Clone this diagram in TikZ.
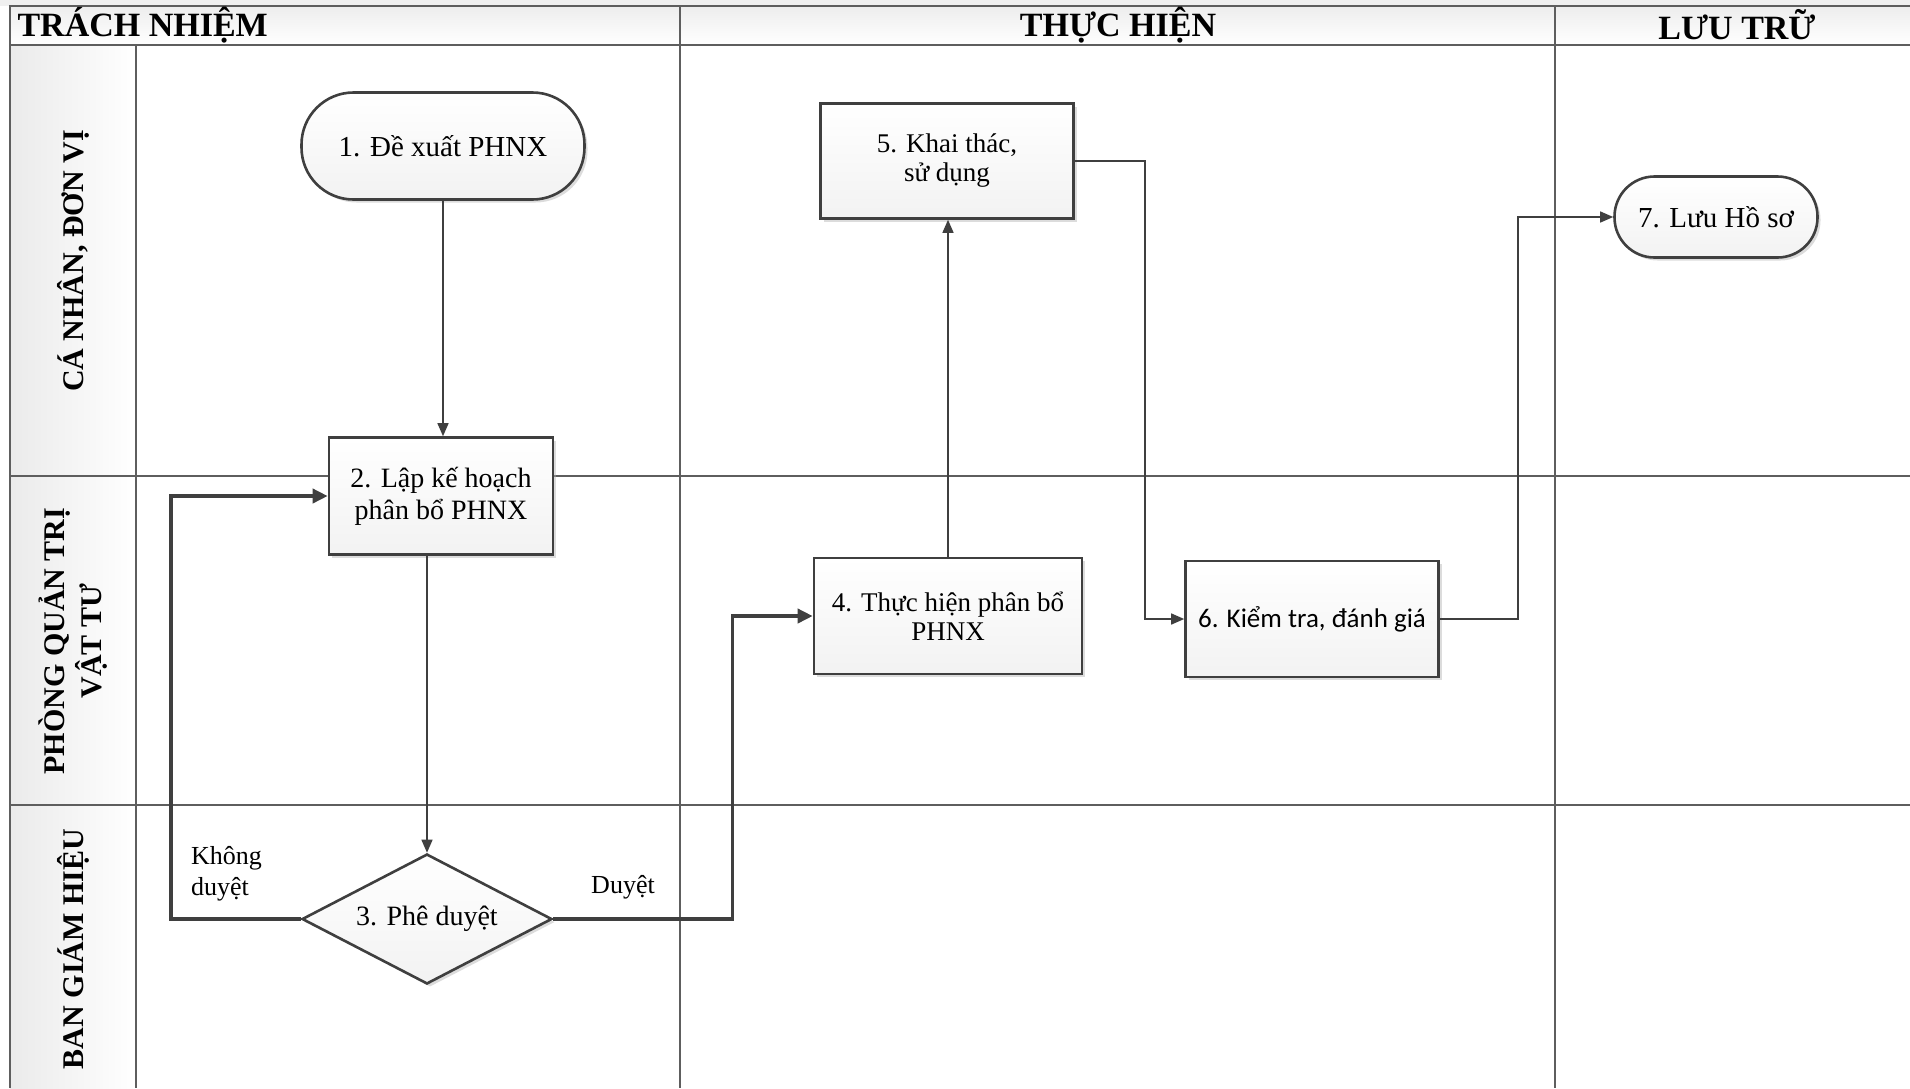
\documentclass[tikz,border=0pt]{standalone}
\usepackage{fontspec}
\setmainfont{Liberation Serif}
\newfontfamily\calfont{Carlito}
\usetikzlibrary{shapes.geometric,arrows.meta,shadows}
\definecolor{linec}{HTML}{3F3F3F}
\definecolor{lanec}{HTML}{5E5E5E}
\begin{document}
\begin{tikzpicture}[x=1pt,y=-1pt,
  lane/.style={draw=lanec, line width=1.4pt},
  box/.style={draw=linec, line width=2.6pt, top color=white, bottom color=gray!10,
    align=center, inner sep=0pt,
    drop shadow={shadow xshift=3pt, shadow yshift=-3pt, fill=black!30, opacity=0.45}},
  term/.style={box},
  conn/.style={draw=linec, line width=1.4pt, -{Triangle[length=13pt,width=11pt]}},
  tconn/.style={draw=linec, line width=3.6pt, -{Triangle[length=15pt,width=14pt]}},
  hdr/.style={font=\bfseries\fontsize{34}{38}\selectfont},
  lanelbl/.style={font=\bfseries\fontsize{30}{37}\selectfont, rotate=90, align=center},
  lbl/.style={font=\fontsize{26}{31}\selectfont, align=left, inner sep=0pt}
]
\useasboundingbox (0,0) rectangle (1910,1088);
% backgrounds
\fill[gray!12] (0,0) rectangle (1910,6);
\fill[top color=gray!14, bottom color=white] (10,6) rectangle (1910,45);
\fill[left color=gray!16, right color=white] (10,45) rectangle (136,1088);
% grid lines
\draw[lane] (10,1088) -- (10,6) -- (1910,6);
\draw[lane] (10,45) -- (1910,45);
\draw[lane] (10,476) -- (1910,476);
\draw[lane] (10,805) -- (1910,805);
\draw[lane] (136,45) -- (136,1088);
\draw[lane] (680,6) -- (680,1088);
\draw[lane] (1555,6) -- (1555,1088);
% headers
\node[hdr, anchor=west] (h1) at (14,25) {TRÁCH NHIỆM};
\node[hdr] (h2) at (1118,25) {THỰC HIỆN};
\node[hdr] (h3) at (1737,25) {LƯU TRỮ};
% lane labels
\node[lanelbl] (l1) at (73,261) {CÁ NHÂN, ĐƠN VỊ};
\node[lanelbl] (l2) at (73,641) {PHÒNG QUẢN TRỊ\\VẬT TƯ};
\node[lanelbl] (l3) at (73,949) {BAN GIÁM HIỆU};
% nodes
\node[term, rounded corners=52, minimum width=283, minimum height=107,
  font=\fontsize{29}{33}\selectfont] (n1) at (443,146) {1. Đề xuất PHNX};
\node[box, minimum width=224, minimum height=117,
  font=\fontsize{28}{32}\selectfont] (n2) at (441,496) {2. Lập kế hoạch\\phân bổ PHNX};
\node[box, diamond, aspect=1.92, minimum width=250, minimum height=130,
  font=\fontsize{28}{32}\selectfont] (n3) at (427,919) {3. Phê duyệt};
\node[box, minimum width=268, minimum height=116,
  font=\fontsize{27}{29}\selectfont] (n4) at (948,616) {4. Thực hiện phân bổ\\PHNX};
\node[box, minimum width=253, minimum height=115,
  font=\fontsize{27}{29}\selectfont] (n5) at (947,161) {5. Khai thác,\\sử dụng};
\node[box, minimum width=253, minimum height=116,
  font=\calfont\fontsize{27}{31}\selectfont] (n6) at (1312,619) {6. Kiểm tra, đánh giá};
\node[term, rounded corners=40, minimum width=203, minimum height=81,
  font=\fontsize{29}{33}\selectfont] (n7) at (1716,217) {7. Lưu Hồ sơ};
% connectors
\draw[conn] (n1.south) -- (n1.south |- n2.north);
\draw[conn] (n3.north |- n2.south) -- (n3.north);
\draw[tconn] (n3.west) -- ++(-130,0) |- (n2.west);
\draw[tconn] (n3.east) -- ++(179,0) |- (n4.west);
\draw[conn] (n4.north) -- (n4.north |- n5.south);
\draw[conn] (n5.east) -- ++(70,0) |- (n6.west);
\draw[conn] (n6.east) -- ++(78,0) |- (n7.west);
% labels
\node[lbl, anchor=west] (k) at (191,874) {Không\\duyệt};
\node[lbl] (d) at (623,887) {Duyệt};
\end{tikzpicture}
\end{document}
